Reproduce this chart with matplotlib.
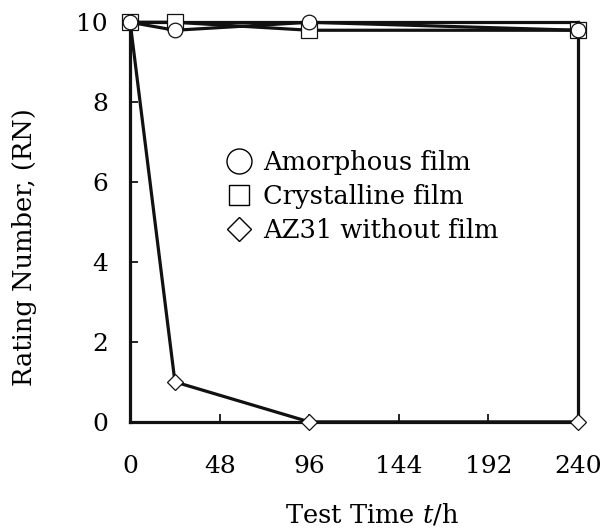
import matplotlib
matplotlib.use('Agg')
import matplotlib.pyplot as plt
from matplotlib import rcParams

rcParams['font.family'] = 'DejaVu Serif'
rcParams['mathtext.fontset'] = 'dejavuserif'
rcParams['font.size'] = 18

# 试验时间 (h)
hours = [0, 24, 96, 240]
# 评分数据
amorphous = [10, 9.8, 10, 9.8]
crystalline = [10, 10, 9.8, 9.8]
az31 = [10, 1, 0, 0]

fig = plt.figure(figsize=(6.11, 5.30), dpi=100)
ax = fig.add_axes([0.213, 0.204, 0.733, 0.754])

line_kw = dict(color='#111111', linewidth=2.3,
               markerfacecolor='white', markeredgecolor='#111111',
               markeredgewidth=0.9, clip_on=False)
ax.plot(hours, az31, marker='D', markersize=8.2, zorder=3, **line_kw)
ax.plot(hours, crystalline, marker='s', markersize=11.2, zorder=4, **line_kw)
ax.plot(hours, amorphous, marker='o', markersize=10.5, zorder=5, **line_kw)

# 图例只显示标记
h1, = ax.plot([], [], 'o', ms=18, mfc='white', mec='black', mew=1.0)
h2, = ax.plot([], [], 's', ms=14.5, mfc='white', mec='black', mew=1.0)
h3, = ax.plot([], [], 'D', ms=12.5, mfc='white', mec='black', mew=1.0)
ax.legend([h1, h2, h3], ['Amorphous film', 'Crystalline film', 'AZ31 without film'],
          loc='upper left', bbox_to_anchor=(0.192, 0.705), frameon=False,
          handlelength=1.0, handletextpad=0.42, labelspacing=0.35,
          borderaxespad=0, fontsize=18.5)

ax.set_xlim(0, 240)
ax.set_ylim(0, 10)
ax.set_xticks([0, 48, 96, 144, 192, 240])
ax.set_yticks([0, 2, 4, 6, 8, 10])
ax.tick_params(axis='x', direction='in', length=6, width=1.2, top=False, pad=24)
ax.tick_params(axis='y', direction='in', length=6, width=1.2, right=False, pad=16)
for s in ax.spines.values():
    s.set_linewidth(2.3)
    s.set_color('#111111')

ax.set_xlabel('Test Time $t$/h', fontsize=18.5)
ax.set_ylabel('Rating Number, (RN)', fontsize=18.5)
ax.xaxis.set_label_coords(0.54, -0.2)
ax.yaxis.set_label_coords(-0.2076, 0.4375)

fig.savefig('out.png', dpi=100, facecolor='white')
